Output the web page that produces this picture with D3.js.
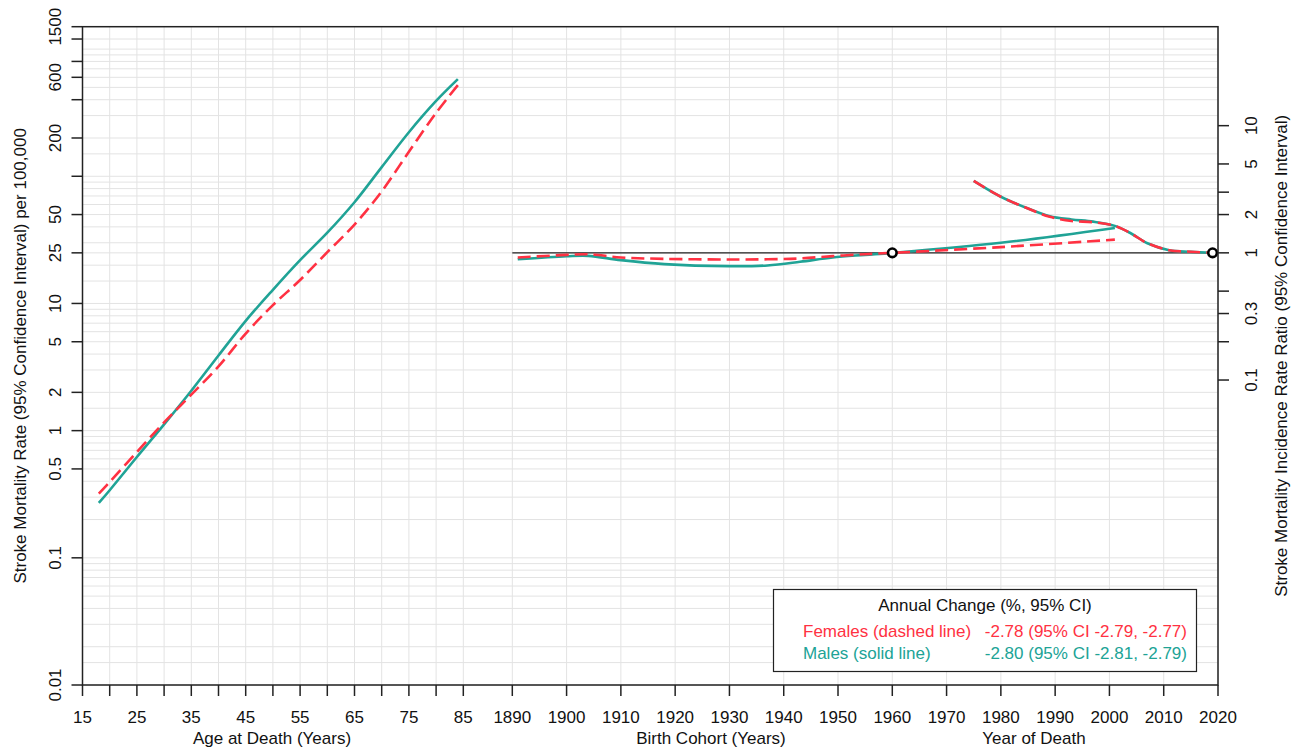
<!DOCTYPE html>
<html><head><meta charset="utf-8">
<script src="https://cdn.jsdelivr.net/npm/d3@7"></script>
<style>body{margin:0;background:#fff}text{font-family:"Liberation Sans",Arial,sans-serif;}</style>
</head><body>
<svg id="chart" width="1299" height="747"></svg>
<script>
// ---------- data ----------
const ageYears    = [18, 20, 25, 30, 35, 40, 45, 50, 55, 60, 65, 70, 75, 80, 84];
const ageMales    = [0.27, 0.34, 0.62, 1.12, 2.06, 3.9, 7.3, 12.8, 21.9, 36, 62.5, 118, 222, 391, 580];
const ageFemales  = [0.32, 0.395, 0.68, 1.16, 1.92, 3.2, 5.8, 9.7, 15.3, 25.3, 41.7, 76, 156, 315, 521];

const cohortYears   = [1891, 1900, 1904, 1910, 1918, 1930, 1937, 1943, 1949, 1955, 1960, 1980, 2001];
const cohortMales   = [0.89, 0.94, 0.947, 0.876, 0.815, 0.786, 0.796, 0.85, 0.92, 0.964, 1.0, 1.2, 1.57];
const cohortFemales = [0.92, 0.964, 0.975, 0.92, 0.897, 0.887, 0.89, 0.904, 0.942, 0.975, 1.0, 1.11, 1.27];

const periodYears   = [1975, 1980, 1985, 1989, 1993, 1997, 2001, 2004, 2007, 2011, 2015, 2019];
const periodMales   = [3.68, 2.76, 2.23, 1.94, 1.83, 1.76, 1.63, 1.42, 1.19, 1.05, 1.02, 1.0];
const periodFemales = [3.68, 2.76, 2.23, 1.92, 1.78, 1.74, 1.63, 1.42, 1.19, 1.05, 1.02, 1.0];

const anchorYears = [1960, 2019];

const ageTicks   = [15, 20, 25, 30, 35, 40, 45, 50, 55, 60, 65, 70, 75, 80, 85];
const ageLabels  = [15, 25, 35, 45, 55, 65, 75, 85];
const calTicks   = [1890, 1900, 1910, 1920, 1930, 1940, 1950, 1960, 1970, 1980, 1990, 2000, 2010, 2020];
const rateTicks  = [1500, 1200, 800, 600, 400, 200, 100, 50, 25, 10, 5, 2, 1, 0.5, 0.1, 0.01];
const rateLabels = [1500, 600, 200, 50, 25, 10, 5, 2, 1, 0.5, 0.1, 0.01];
const ratioTicks  = [0.1, 0.2, 1/3, 0.5, 1, 2, 3, 5, 10];
const ratioLabels = [[0.1, "0.1"], [1/3, "0.3"], [1, "1"], [2, "2"], [5, "5"], [10, "10"]];
const gridExtra  = [0.015, 1.5, 15, 25, 150, 1200];

const legendTitle = "Annual Change (%, 95% CI)";
const legendNames  = ["Females (dashed line)", "Males (solid line)"];
const legendValues = ["-2.78 (95% CI -2.79, -2.77)", "-2.80 (95% CI -2.81, -2.79)"];

// ---------- styles ----------
const TEAL = "#20a396", RED = "#ff3142";
const L = 82.5, R = 1218, T = 26.7, B = 685;

const svg = d3.select("#chart");
const xAge = d3.scaleLinear().domain([15, 85]).range([L, 463.3]);
const xCal = d3.scaleLinear().domain([1890, 2020]).range([512.3, R]);
const yRate = d3.scaleLog().domain([0.01, 1500]).range([B, T]);
const yRatio = d3.scaleLog().domain([0.01 / 25, 1500 / 25]).range([B, T]);

// grid values
const gridVals = [];
for (let k = -2; k <= 3; k++) for (let m = 1; m <= 9; m++) {
  const v = m * Math.pow(10, k);
  if (v <= 1000) gridVals.push(v);
}
gridExtra.forEach(v => gridVals.push(v));

const grid = svg.append("g").attr("stroke", "#e3e3e3").attr("stroke-width", 1);
grid.selectAll("line.h").data(gridVals).join("line")
  .attr("x1", L).attr("x2", R).attr("y1", d => yRate(d)).attr("y2", d => yRate(d));
grid.selectAll("line.va").data(ageTicks).join("line").attr("class", "va")
  .attr("x1", d => xAge(d)).attr("x2", d => xAge(d)).attr("y1", T).attr("y2", B);
grid.selectAll("line.vc").data(calTicks).join("line").attr("class", "vc")
  .attr("x1", d => xCal(d)).attr("x2", d => xCal(d)).attr("y1", T).attr("y2", B);

// reference line ratio = 1
svg.append("line").attr("x1", xCal(1890)).attr("x2", R)
  .attr("y1", yRatio(1)).attr("y2", yRatio(1)).attr("stroke", "#222").attr("stroke-width", 1.2);

// lines
const ageLine = d3.line().curve(d3.curveCatmullRom).x(d => xAge(d[0])).y(d => yRate(d[1]));
const calLine = d3.line().curve(d3.curveCatmullRom).x(d => xCal(d[0])).y(d => yRatio(d[1]));
const zip = (a, b) => a.map((v, i) => [v, b[i]]);

const series = [
  {gen: ageLine, data: zip(ageYears, ageMales), color: TEAL, dash: null},
  {gen: calLine, data: zip(cohortYears, cohortMales), color: TEAL, dash: null},
  {gen: calLine, data: zip(periodYears, periodMales), color: TEAL, dash: null},
  {gen: ageLine, data: zip(ageYears, ageFemales), color: RED, dash: "13,6"},
  {gen: calLine, data: zip(cohortYears, cohortFemales), color: RED, dash: "13,6"},
  {gen: calLine, data: zip(periodYears, periodFemales), color: RED, dash: "13,6"}
];
series.forEach(s => {
  svg.append("path").attr("d", s.gen(s.data)).attr("fill", "none")
    .attr("stroke", s.color).attr("stroke-width", 2.6)
    .attr("stroke-dasharray", s.dash);
});

// anchor circles
svg.selectAll("circle.anchor").data(anchorYears).join("circle")
  .attr("cx", d => xCal(d)).attr("cy", yRatio(1)).attr("r", 4.3)
  .attr("fill", "white").attr("stroke", "#000").attr("stroke-width", 2.6);

// box
svg.append("rect").attr("x", L).attr("y", T).attr("width", R - L).attr("height", B - T)
  .attr("fill", "none").attr("stroke", "#222").attr("stroke-width", 1.5);

// axes
const fs = 17;
const axisG = svg.append("g").attr("stroke", "#222").attr("stroke-width", 1.5);
axisG.selectAll("line.ba").data(ageTicks).join("line")
  .attr("x1", d => xAge(d)).attr("x2", d => xAge(d)).attr("y1", B).attr("y2", B + 11);
axisG.selectAll("line.bc").data(calTicks).join("line").attr("class", "bc")
  .attr("x1", d => xCal(d)).attr("x2", d => xCal(d)).attr("y1", B).attr("y2", B + 11);
axisG.selectAll("line.l").data(rateTicks).join("line").attr("class", "l")
  .attr("x1", L - 11).attr("x2", L).attr("y1", d => yRate(d)).attr("y2", d => yRate(d));
axisG.selectAll("line.r").data(ratioTicks).join("line").attr("class", "r")
  .attr("x1", R).attr("x2", R + 11).attr("y1", d => yRatio(d)).attr("y2", d => yRatio(d));

const txt = svg.append("g").attr("font-size", fs).attr("fill", "#111");
txt.selectAll("text.xa").data(ageLabels).join("text").attr("class", "xa")
  .attr("x", d => xAge(d)).attr("y", 723).attr("text-anchor", "middle").text(d => d);
txt.selectAll("text.xc").data(calTicks).join("text").attr("class", "xc")
  .attr("x", d => xCal(d)).attr("y", 723).attr("text-anchor", "middle").text(d => d);
txt.selectAll("text.yl").data(rateLabels).join("text").attr("class", "yl")
  .attr("transform", d => `translate(61,${yRate(d)}) rotate(-90)`)
  .attr("text-anchor", "middle").text(d => d);
txt.selectAll("text.yr").data(ratioLabels).join("text").attr("class", "yr")
  .attr("transform", d => `translate(1257,${yRatio(d[0])}) rotate(-90)`)
  .attr("text-anchor", "middle").text(d => d[1]);

// axis titles
txt.append("text").attr("x", 272).attr("y", 744).attr("text-anchor", "middle").text("Age at Death (Years)");
txt.append("text").attr("x", 711).attr("y", 744).attr("text-anchor", "middle").text("Birth Cohort (Years)");
txt.append("text").attr("x", 1034).attr("y", 744).attr("text-anchor", "middle").text("Year of Death");
txt.append("text").attr("transform", `translate(26,${(T + B) / 2}) rotate(-90)`)
  .attr("text-anchor", "middle").text("Stroke Mortality Rate (95% Confidence Interval) per 100,000");
txt.append("text").attr("transform", `translate(1287,${(T + B) / 2}) rotate(-90)`)
  .attr("text-anchor", "middle").text("Stroke Mortality Incidence Rate Ratio (95% Confidence Interval)");

// legend
const lg = svg.append("g");
lg.append("rect").attr("x", 773.5).attr("y", 589.5).attr("width", 423).attr("height", 82)
  .attr("fill", "white").attr("stroke", "#222").attr("stroke-width", 1.2);
lg.append("text").attr("x", 985).attr("y", 611).attr("text-anchor", "middle")
  .attr("font-size", fs).attr("fill", "#111").text(legendTitle);
const lcolors = [RED, TEAL];
legendNames.forEach((n, i) => {
  lg.append("text").attr("x", 803).attr("y", 637 + i * 21.5).attr("font-size", fs)
    .attr("fill", lcolors[i]).text(n);
  lg.append("text").attr("x", 1187).attr("y", 637 + i * 21.5).attr("font-size", fs)
    .attr("text-anchor", "end").attr("fill", lcolors[i]).text(legendValues[i]);
});
</script>
</body></html>
